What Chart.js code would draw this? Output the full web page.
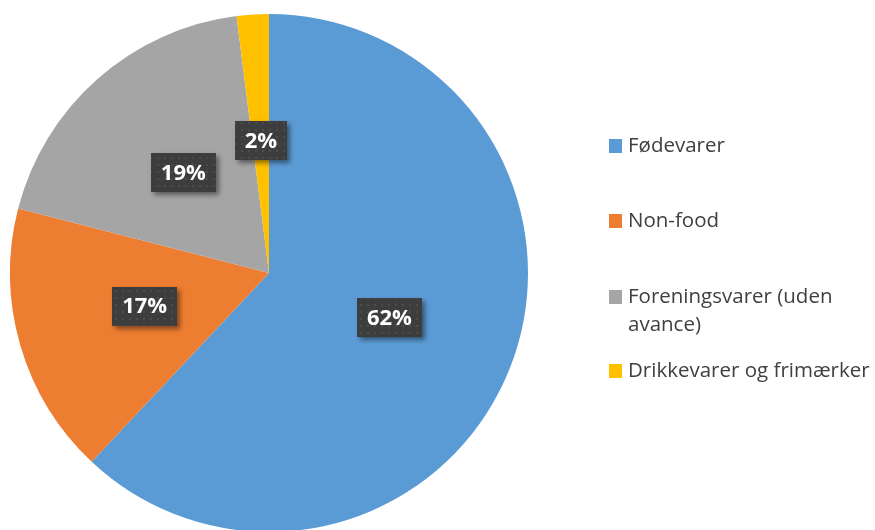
<!DOCTYPE html>
<html>
<head>
<meta charset="utf-8">
<script src="https://cdn.jsdelivr.net/npm/chart.js@4.4.0/dist/chart.umd.min.js"></script>
<style>
  html, body { margin: 0; padding: 0; background: #fff; }
  #wrap { width: 875px; height: 530px; }
</style>
</head>
<body>
<div id="wrap"><canvas id="pie" width="875" height="530"></canvas></div>
<script>
// data
const categories = ["Fødevarer", "Non-food", "Foreningsvarer (uden avance)", "Drikkevarer og frimærker"]
const legendLines = [["Fødevarer"], ["Non-food"], ["Foreningsvarer (uden", "avance)"], ["Drikkevarer og frimærker"]]
const shares = [62, 17, 19, 2]
const sliceColors = ["#5B9BD5", "#ED7D31", "#A5A5A5", "#FFC000"]

// dotted dark fill for the value boxes
function makeBoxPattern(ctx) {
    let c = document.createElement("canvas")
    c.width = 7
    c.height = 7
    let g = c.getContext("2d")
    g.fillStyle = "#3d3d3d"
    g.fillRect(0, 0, 7, 7)
    g.fillStyle = "#4c4c4c"
    g.fillRect(3, 3, 2, 2)
    return ctx.createPattern(c, "repeat")
}

const valueBoxes = {
    id: "valueBoxes",
    afterDatasetsDraw(chart) {
        let ctx = chart.ctx
        let meta = chart.getDatasetMeta(0)
        let pattern = makeBoxPattern(ctx)
        ctx.save()
        ctx.font = "bold 22px 'Open Sans'"
        ctx.textAlign = "center"
        ctx.textBaseline = "middle"
        meta.data.forEach((arc, i) => {
            let p = arc.getProps(["x", "y", "startAngle", "endAngle", "outerRadius"], true)
            let mid = (p.startAngle + p.endAngle) / 2
            let cx = p.x + Math.cos(mid) * p.outerRadius * 0.5
            let cy = p.y + Math.sin(mid) * p.outerRadius * 0.5 - 3
            let txt = shares[i] + "%"
            let w = ctx.measureText(txt).width + 20
            let h = 39
            ctx.save()
            ctx.shadowColor = "rgba(0,0,0,0.45)"
            ctx.shadowBlur = 5
            ctx.shadowOffsetX = 3
            ctx.shadowOffsetY = 3
            ctx.fillStyle = pattern
            ctx.fillRect(Math.round(cx - w / 2), Math.round(cy - h / 2), Math.round(w), h)
            ctx.restore()
            ctx.fillStyle = "#ffffff"
            ctx.fillText(txt, cx, cy + 1)
        })
        ctx.restore()
    }
}

// legend on the right, drawn by hand so the long label can wrap
const sideLegend = {
    id: "sideLegend",
    afterDraw(chart) {
        let ctx = chart.ctx
        let rowY = [146, 221, 297, 371]
        ctx.save()
        ctx.font = "20.5px 'Open Sans'"
        ctx.textBaseline = "middle"
        ctx.textAlign = "left"
        legendLines.forEach((lines, i) => {
            ctx.fillStyle = sliceColors[i]
            ctx.fillRect(609, rowY[i] - 7, 13, 14)
            ctx.fillStyle = "#404040"
            lines.forEach((ln, j) => {
                ctx.fillText(ln, 628, rowY[i] + j * 28)
            })
        })
        ctx.restore()
    }
}

let chart = new Chart(document.getElementById("pie"), {
    type: "pie",
    data: {
        labels: categories,
        datasets: [{
            data: shares,
            backgroundColor: sliceColors,
            borderWidth: 0,
            radius: 259,
            clip: false
        }]
    },
    options: {
        responsive: false,
        animation: false,
        layout: {
            padding: { left: 10, right: 347, top: 16, bottom: 0 }
        },
        plugins: {
            legend: { display: false },
            tooltip: { enabled: false }
        }
    },
    plugins: [valueBoxes, sideLegend]
})
</script>
</body>
</html>
